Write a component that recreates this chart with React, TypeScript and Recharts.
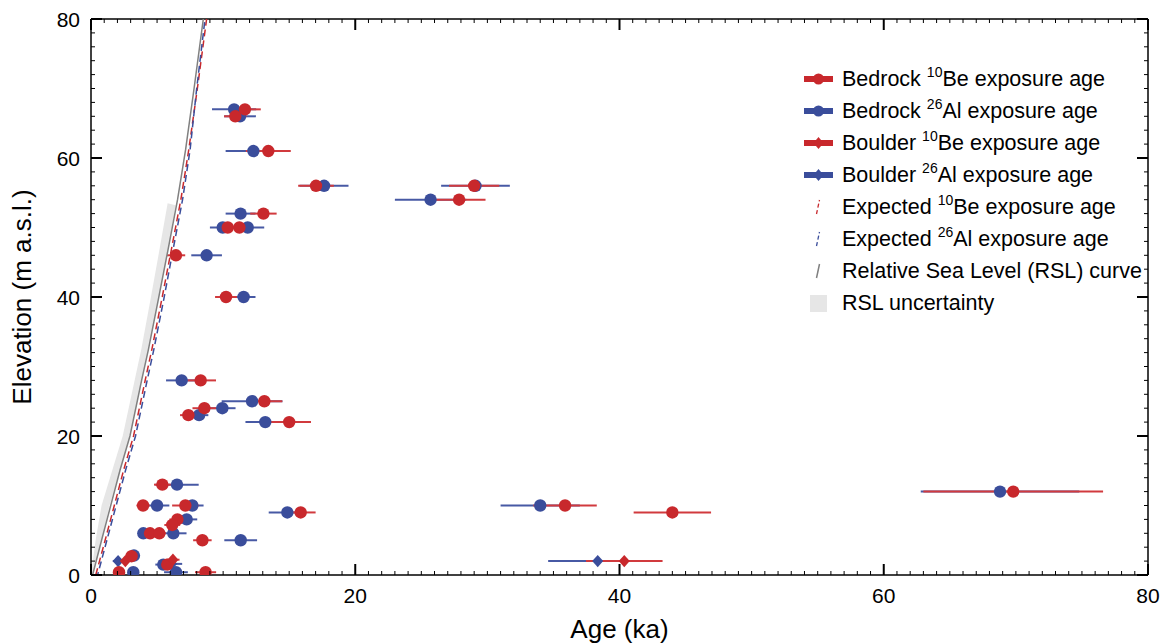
import { ScatterChart, Scatter, XAxis, YAxis, ErrorBar } from "recharts"

const RED = "#c8282c"
const BLUE = "#3a4d9b"
const RED_BAR = "#d13a3e"
const BLUE_BAR = "#4759a4"
const GREY = "#808080"
const BAND = "#e6e6e6"
const FONT = '"Liberation Sans", Arial, Helvetica, sans-serif'

// [age (ka), elevation (m), 1 sigma (ka)]
const bedrockAl26: number[][] = [
  [10.83, 67, 1.67], [11.28, 66, 1.2], [12.29, 61, 2.1], [17.64, 56, 1.85],
  [29.1, 56, 2.6], [25.7, 54, 2.7], [11.32, 52, 1.13], [9.97, 50, 0.97],
  [11.86, 50, 1.25], [8.75, 46, 1.16], [11.55, 40, 0.9], [6.86, 28, 1.18],
  [12.19, 25, 2.3], [9.94, 24, 1.0], [8.18, 23, 0.7], [13.19, 22, 1.5],
  [6.51, 13, 1.64], [5.0, 10, 0.93], [7.67, 10, 0.85], [34.0, 10, 3.0],
  [14.86, 9, 1.41], [7.24, 8, 0.8], [3.96, 6, 0.4], [6.23, 6, 1.0],
  [11.33, 5, 1.24], [3.25, 2.8, 0.4], [5.47, 1.5, 0.6], [3.2, 0.4, 0.4],
  [6.43, 0.4, 0.9], [68.8, 12, 6.0],
]

const bedrockBe10: number[][] = [
  [11.65, 67, 1.2], [10.92, 66, 0.85], [13.42, 61, 1.7], [17.03, 56, 1.35],
  [29.0, 56, 1.9], [27.86, 54, 2.0], [13.05, 52, 1.0], [10.35, 50, 0.7],
  [11.23, 50, 0.8], [6.43, 46, 0.7], [10.22, 40, 0.83], [8.3, 28, 1.16],
  [13.12, 25, 1.36], [8.58, 24, 0.9], [7.37, 23, 0.63], [15.0, 22, 1.65],
  [5.4, 13, 0.63], [3.94, 10, 0.5], [7.14, 10, 1.0], [35.88, 10, 2.4],
  [15.87, 9, 1.13], [44.0, 9, 2.93], [6.54, 8, 0.6], [6.15, 7.2, 0.6],
  [4.47, 6, 0.5], [5.17, 6, 0.5], [8.43, 5, 0.7], [3.07, 2.7, 0.4],
  [5.77, 1.5, 0.5], [2.12, 0.4, 0.4], [8.67, 0.4, 0.8], [69.8, 12, 6.8],
]

const boulderAl26: number[][] = [
  [2.05, 2.0, 0.4], [6.1, 1.6, 0.8], [38.35, 2, 3.75],
]

const boulderBe10: number[][] = [
  [2.6, 2.0, 0.4], [6.2, 2.2, 0.5], [40.36, 2, 2.9],
]

// [age (ka), elevation (m)]
const rslCurve: number[][] = [
  [0.12, 0], [0.8, 5], [2.2, 15.1], [2.95, 20], [3.83, 28], [4.34, 32.4],
  [5.09, 39.6], [5.85, 47], [6.55, 54], [7.16, 61.2], [7.8, 70], [8.5, 80],
]

const expectedBe10: number[][] = [
  [0.36, 0], [1.07, 5], [2.47, 15.1], [3.22, 20], [4.1, 28], [4.6, 32.4],
  [5.35, 39.6], [6.1, 47], [6.8, 54], [7.4, 61.2], [8.05, 70], [8.75, 80],
]

const expectedAl26: number[][] = [
  [0.5, 0], [1.2, 5], [2.62, 15.1], [3.37, 20], [4.25, 28], [4.75, 32.4],
  [5.5, 39.6], [6.23, 47], [6.93, 54], [7.5, 61.2], [8.0, 70], [8.63, 80],
]

const rslBandLeft: number[][] = [
  [0, 0], [0.35, 5], [0.8, 10], [1.6, 15], [2.4, 20], [3.3, 28],
  [3.8, 32.4], [4.5, 39.6], [5.2, 47], [5.8, 53.5],
]

const rslBandRight: number[][] = [
  [6.4, 53.2], [5.85, 47], [5.09, 39.6], [4.34, 32.4], [3.83, 28],
  [2.95, 20], [2.2, 15.1], [1.4, 10], [0.8, 5], [0.12, 0],
]

const xMajorTicks = [0, 20, 40, 60, 80]
const yMajorTicks = [0, 20, 40, 60, 80]
const xAllTicks = Array.from({ length: 81 }, (_, i) => i)
const yAllTicks = Array.from({ length: 41 }, (_, i) => i * 2)

const toPoints = (rows: number[][]) =>
  rows.map(([x, y, err]) => ({ x, y, err }))

const bandPoints = toPoints([...rslBandLeft, ...rslBandRight])

const dot = (color: string) => (p: any) =>
  <circle cx={p.cx} cy={p.cy} r={6.2} fill={color} />

const diamond = (color: string) => (p: any) =>
  <path
    d={`M${p.cx},${p.cy - 6.2}L${p.cx + 5.5},${p.cy}L${p.cx},${p.cy + 6.2}L${p.cx - 5.5},${p.cy}Z`}
    fill={color}
  />

const noShape = () => <g />

const BottomTick = ({ x, y, payload }: any) => {
  const major = xMajorTicks.includes(payload.value)
  return (
    <g>
      <line x1={x} x2={x} y1={y} y2={y - (major ? 11 : 4)} stroke="#000" strokeWidth={major ? 2 : 1} />
      {major && (
        <text x={x} y={y + 28} textAnchor="middle" fontSize={21} fontFamily={FONT} fill="#000">
          {payload.value}
        </text>
      )}
    </g>
  )
}

const TopTick = ({ x, y, payload }: any) => {
  const major = xMajorTicks.includes(payload.value)
  return <line x1={x} x2={x} y1={y} y2={y + (major ? 11 : 4)} stroke="#000" strokeWidth={major ? 2 : 1} />
}

const LeftTick = ({ x, y, payload }: any) => {
  const major = yMajorTicks.includes(payload.value)
  return (
    <g>
      <line x1={x} x2={x + (major ? 11 : 4)} y1={y} y2={y} stroke="#000" strokeWidth={major ? 2 : 1} />
      {major && (
        <text x={x - 11} y={y + 7.5} textAnchor="end" fontSize={21} fontFamily={FONT} fill="#000">
          {payload.value}
        </text>
      )}
    </g>
  )
}

const RightTick = ({ x, y, payload }: any) => {
  const major = yMajorTicks.includes(payload.value)
  return <line x1={x} x2={x - (major ? 11 : 4)} y1={y} y2={y} stroke="#000" strokeWidth={major ? 2 : 1} />
}

const legendRows = [
  { icon: "barDot", color: RED, pre: "Bedrock ", sup: "10", post: "Be exposure age" },
  { icon: "barDot", color: BLUE, pre: "Bedrock ", sup: "26", post: "Al exposure age" },
  { icon: "barDiamond", color: RED, pre: "Boulder ", sup: "10", post: "Be exposure age" },
  { icon: "barDiamond", color: BLUE, pre: "Boulder ", sup: "26", post: "Al exposure age" },
  { icon: "dash", color: RED, pre: "Expected ", sup: "10", post: "Be exposure age" },
  { icon: "dash", color: BLUE, pre: "Expected ", sup: "26", post: "Al exposure age" },
  { icon: "solid", color: GREY, pre: "Relative Sea Level (RSL) curve", sup: "", post: "" },
  { icon: "square", color: BAND, pre: "RSL uncertainty", sup: "", post: "" },
]

function LegendIcon({ icon, color }: { icon: string; color: string }) {
  return (
    <svg width={42} height={32}>
      {(icon === "barDot" || icon === "barDiamond") && (
        <line x1={4} x2={33} y1={16} y2={16} stroke={color} strokeWidth={6} />
      )}
      {icon === "barDot" && <circle cx={18.5} cy={16} r={5.5} fill={color} />}
      {icon === "barDiamond" && <path d="M18.5,10L23.5,16L18.5,22L13.5,16Z" fill={color} />}
      {icon === "dash" && (
        <line x1={16.5} y1={23} x2={19.5} y2={9} stroke={color} strokeWidth={1.3} strokeDasharray="4 2.5" />
      )}
      {icon === "solid" && <line x1={16.5} y1={23} x2={19.5} y2={9} stroke={color} strokeWidth={1.5} />}
      {icon === "square" && <rect x={10} y={8} width={17} height={17} fill={color} />}
    </svg>
  )
}

function ChartLegend() {
  return (
    <div style={{ position: "absolute", left: 800, top: 63, fontFamily: FONT, fontSize: 21.5, color: "#000" }}>
      {legendRows.map((r, i) => (
        <div key={i} style={{ display: "flex", alignItems: "center", height: 32, whiteSpace: "nowrap" }}>
          <LegendIcon icon={r.icon} color={r.color} />
          <span>
            {r.pre}
            {r.sup && (
              <span style={{ fontSize: 14, position: "relative", top: -9, lineHeight: 0 }}>{r.sup}</span>
            )}
            {r.post}
          </span>
        </div>
      ))}
    </div>
  )
}

export default function App() {
  return (
    <div style={{ position: "absolute", left: 0, top: 0, width: 1162, height: 644, background: "#fff" }}>
      <ScatterChart width={1162} height={644} margin={{ top: 0, right: 0, bottom: 0, left: 0 }}>
        <XAxis
          xAxisId="b"
          type="number"
          dataKey="x"
          domain={[0, 80]}
          allowDataOverflow
          ticks={xAllTicks}
          interval={0}
          tickSize={0}
          tickMargin={0}
          tick={BottomTick}
          tickLine={false}
          axisLine={{ stroke: "#000", strokeWidth: 1.5 }}
          height={69}
          label={{
            content: ({ viewBox }: any) => (
              <text
                x={viewBox.x + viewBox.width / 2}
                y={viewBox.y + 63}
                textAnchor="middle"
                fontSize={26}
                fontFamily={FONT}
                fill="#000"
              >
                Age (ka)
              </text>
            ),
          }}
        />
        <XAxis
          xAxisId="t"
          orientation="top"
          type="number"
          dataKey="x"
          domain={[0, 80]}
          allowDataOverflow
          ticks={xAllTicks}
          interval={0}
          tickSize={0}
          tickMargin={0}
          tick={TopTick}
          tickLine={false}
          axisLine={{ stroke: "#000", strokeWidth: 1.5 }}
          height={19}
        />
        <YAxis
          yAxisId="l"
          type="number"
          dataKey="y"
          domain={[0, 80]}
          allowDataOverflow
          ticks={yAllTicks}
          interval={0}
          tickSize={0}
          tickMargin={0}
          tick={LeftTick}
          tickLine={false}
          axisLine={{ stroke: "#000", strokeWidth: 1.5 }}
          width={91}
          label={{
            content: ({ viewBox }: any) => {
              const cx = 31
              const cy = viewBox.y + viewBox.height / 2
              return (
                <text
                  x={cx}
                  y={cy}
                  transform={`rotate(-90, ${cx}, ${cy})`}
                  textAnchor="middle"
                  fontSize={26}
                  fontFamily={FONT}
                  fill="#000"
                >
                  Elevation (m a.s.l.)
                </text>
              )
            },
          }}
        />
        <YAxis
          yAxisId="r"
          orientation="right"
          type="number"
          dataKey="y"
          domain={[0, 80]}
          allowDataOverflow
          ticks={yAllTicks}
          interval={0}
          tickSize={0}
          tickMargin={0}
          tick={RightTick}
          tickLine={false}
          axisLine={{ stroke: "#000", strokeWidth: 1.5 }}
          width={14}
        />

        <Scatter
          xAxisId="b"
          yAxisId="l"
          data={bandPoints}
          fill={BAND}
          shape={noShape}
          line={{ stroke: "none", fill: BAND }}
          lineType="joint"
          isAnimationActive={false}
        />
        <Scatter
          xAxisId="b"
          yAxisId="l"
          data={toPoints(rslCurve)}
          fill={GREY}
          shape={noShape}
          line={{ stroke: GREY, strokeWidth: 1.5 }}
          lineType="joint"
          isAnimationActive={false}
        />
        <Scatter
          xAxisId="b"
          yAxisId="l"
          data={toPoints(expectedBe10)}
          fill={RED}
          shape={noShape}
          line={{ stroke: RED, strokeWidth: 1.5, strokeDasharray: "7 4" }}
          lineType="joint"
          isAnimationActive={false}
        />
        <Scatter
          xAxisId="b"
          yAxisId="l"
          data={toPoints(expectedAl26)}
          fill={BLUE}
          shape={noShape}
          line={{ stroke: BLUE, strokeWidth: 1.5, strokeDasharray: "7 4", strokeDashoffset: 4 }}
          lineType="joint"
          isAnimationActive={false}
        />

        <Scatter xAxisId="b" yAxisId="l" data={toPoints(bedrockAl26)} fill={BLUE} shape={dot(BLUE)} isAnimationActive={false}>
          <ErrorBar dataKey="err" direction="x" width={0} stroke={BLUE_BAR} strokeWidth={2} />
        </Scatter>
        <Scatter xAxisId="b" yAxisId="l" data={toPoints(boulderAl26)} fill={BLUE} shape={diamond(BLUE)} isAnimationActive={false}>
          <ErrorBar dataKey="err" direction="x" width={0} stroke={BLUE_BAR} strokeWidth={2} />
        </Scatter>
        <Scatter xAxisId="b" yAxisId="l" data={toPoints(bedrockBe10)} fill={RED} shape={dot(RED)} isAnimationActive={false}>
          <ErrorBar dataKey="err" direction="x" width={0} stroke={RED_BAR} strokeWidth={2} />
        </Scatter>
        <Scatter xAxisId="b" yAxisId="l" data={toPoints(boulderBe10)} fill={RED} shape={diamond(RED)} isAnimationActive={false}>
          <ErrorBar dataKey="err" direction="x" width={0} stroke={RED_BAR} strokeWidth={2} />
        </Scatter>
      </ScatterChart>
      <ChartLegend />
    </div>
  )
}
